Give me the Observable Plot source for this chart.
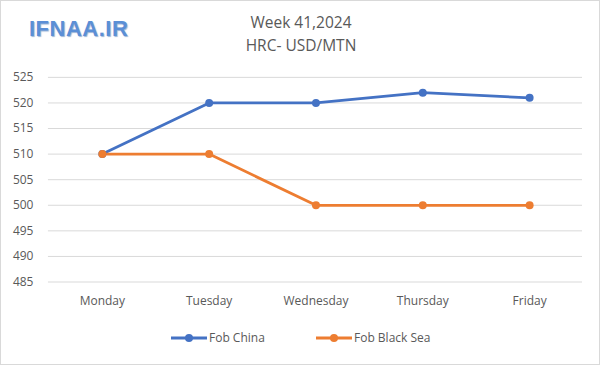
<!DOCTYPE html>
<html><head><meta charset="utf-8">
<script src="https://cdn.jsdelivr.net/npm/d3@7"></script>
<script src="https://cdn.jsdelivr.net/npm/@observablehq/plot@0.6"></script>
<style>
html,body{margin:0;padding:0;background:#fff;}
#wrap{position:relative;width:598px;height:363px;border:1px solid #d9d9d9;overflow:hidden;font-family:"Open Sans","Liberation Sans",sans-serif;color:#595959;}
#plot{position:absolute;left:-1px;top:-1px;}
.title{position:absolute;left:0;width:600px;text-align:center;font-size:15.5px;color:#595959;}
#logo{position:absolute;left:28px;top:15px;font-size:22px;font-weight:bold;color:#5b8fd6;letter-spacing:0.5px;text-shadow:1px 1px 1px #9bb4d6;font-family:"Liberation Sans",sans-serif;}
#legend{position:absolute;top:328px;left:0;width:600px;font-size:12px;color:#595959;}
.lg{position:absolute;display:flex;align-items:center;}
</style></head>
<body>
<div id="wrap">
<div id="plot"></div>
<div id="logo">IFNAA.IR</div>
<div class="title" style="top:10px">Week 41,2024</div>
<div class="title" style="top:33px">HRC- USD/MTN</div>
<div id="legend"></div>
</div>
<script>
const days = ["Monday","Tuesday","Wednesday","Thursday","Friday"];
const fobChina = [510, 520, 520, 522, 521];
const fobBlackSea = [510, 510, 500, 500, 500];
const seriesNames = ["Fob China","Fob Black Sea"];
const colors = ["#4472c4","#ed7d31"];
const yTicks = [485,490,495,500,505,510,515,520,525];

const data = [];
days.forEach((d,i)=>{
  data.push({day:d, value:fobChina[i], series:seriesNames[0]});
  data.push({day:d, value:fobBlackSea[i], series:seriesNames[1]});
});

const chart = Plot.plot({
  width: 600,
  height: 367,
  marginLeft: 48,
  marginRight: 17,
  marginTop: 77,
  marginBottom: 85,
  style: {fontFamily: '"Open Sans","Liberation Sans",sans-serif', fontSize: "12px", color: "#595959", background: "transparent"},
  x: {type: "point", domain: days, padding: 0.5, label: null, tickSize: 0, tickPadding: 14},
  y: {domain: [485, 525], ticks: yTicks, label: null, tickSize: 0, tickPadding: 15},
  color: {domain: seriesNames, range: colors},
  marks: [
    Plot.ruleY(yTicks, {stroke: "#d9d9d9", strokeWidth: 1}),
    Plot.line(data, {x: "day", y: "value", z: "series", stroke: "series", strokeWidth: 2.8}),
    Plot.dot(data, {x: "day", y: "value", fill: "series", r: 4})
  ]
});
document.getElementById("plot").appendChild(chart);

const legend = document.getElementById("legend");
const lpos = [170, 315];
seriesNames.forEach((s,i)=>{
  const el = document.createElement("div");
  el.className = "lg";
  el.style.left = lpos[i] + "px";
  el.innerHTML = `<svg width="36" height="12"><line x1="0" y1="6" x2="36" y2="6" stroke="${colors[i]}" stroke-width="2.8"/><circle cx="18" cy="6" r="4" fill="${colors[i]}"/></svg><span style="margin-left:2px">${s}</span>`;
  legend.appendChild(el);
});
</script>
</body></html>
